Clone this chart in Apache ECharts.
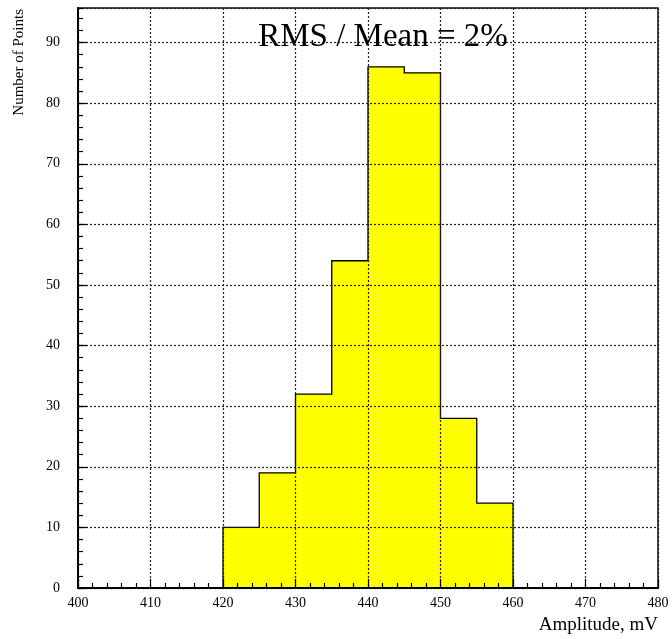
<!DOCTYPE html>
<html>
<head>
<meta charset="utf-8">
<script src="https://cdn.jsdelivr.net/npm/echarts@6/dist/echarts.min.js"></script>
<style>
html,body{margin:0;padding:0;background:#fff;}
#chart{width:672px;height:639px;}
</style>
</head>
<body>
<div id="chart"></div>
<script>
// Data
const binEdges = [420, 425, 430, 435, 440, 445, 450, 455, 460];
const binCounts = [10, 19, 32, 54, 86, 85, 28, 14];
const xTicks = [400, 410, 420, 430, 440, 450, 460, 470, 480];
const yTicks = [0, 10, 20, 30, 40, 50, 60, 70, 80, 90];
const titleText = 'RMS / Mean = 2%';
const xTitle = 'Amplitude, mV';
const yTitle = 'Number of Points';

// Step outline of the histogram built from the bins
const outline = [[binEdges[0], 0]];
for (let i = 0; i < binCounts.length; i++) {
  outline.push([binEdges[i], binCounts[i]]);
  outline.push([binEdges[i + 1], binCounts[i]]);
}
outline.push([binEdges[binEdges.length - 1], 0]);

const FONT = "'Liberation Serif', 'Times New Roman', serif";
const chart = echarts.init(document.getElementById('chart'));
const gridDot = { color: '#222', width: 1.2, type: [2, 2] };
const yMax = 95.7;

chart.setOption({
  animation: false,
  grid: { left: 78, right: 14, top: 8, bottom: 51, show: true, borderColor: '#111', borderWidth: 1.5, backgroundColor: 'transparent', z: 10 },
  xAxis: [{
    type: 'value', min: xTicks[0], max: xTicks[xTicks.length - 1], interval: 10, z: 10,
    axisLine: { show: true, onZero: false, lineStyle: { color: '#000', width: 2 } },
    axisTick: { show: true, inside: true, length: 9, lineStyle: { color: '#000', width: 1.2 } },
    minorTick: { show: true, splitNumber: 5, length: 5, lineStyle: { color: '#000', width: 1.2 } },
    splitLine: { show: true, lineStyle: gridDot },
    axisLabel: { color: '#000', fontFamily: FONT, fontSize: 14, margin: 8 }
  }],
  yAxis: [{
    type: 'value', min: yTicks[0], max: yMax, interval: 10, z: 10,
    axisLine: { show: true, onZero: false, lineStyle: { color: '#000', width: 2 } },
    axisTick: { show: true, inside: true, length: 9, lineStyle: { color: '#000', width: 1.2 } },
    splitLine: { show: true, lineStyle: gridDot },
    axisLabel: { color: '#000', fontFamily: FONT, fontSize: 14, margin: 18, showMaxLabel: false }
  }, {
    type: 'value', min: yTicks[0], max: yMax, interval: 2, position: 'left', z: 10,
    axisLine: { show: false },
    axisTick: { show: true, inside: true, length: 5, lineStyle: { color: '#000', width: 1.2 } },
    splitLine: { show: false },
    axisLabel: { show: false }
  }],
  series: [{
    type: 'custom',
    coordinateSystem: 'cartesian2d',
    xAxisIndex: 0, yAxisIndex: 0,
    data: [0],
    z: 0,
    silent: true,
    renderItem: function (params, api) {
      const pts = outline.map(p => api.coord(p));
      return { type: 'polygon', shape: { points: pts }, style: { fill: '#ffff00', stroke: '#000', lineWidth: 1.3 } };
    }
  }],
  graphic: [
    { type: 'text', x: 383, y: 37, z: 20, style: { text: titleText, font: '33px ' + FONT, fill: '#000', textAlign: 'center', textVerticalAlign: 'middle' } },
    { type: 'text', x: 658, y: 625, z: 20, style: { text: xTitle, font: '19px ' + FONT, fill: '#000', textAlign: 'right', textVerticalAlign: 'middle' } },
    { type: 'text', x: 19, y: 9, rotation: Math.PI / 2, z: 20, style: { text: yTitle, font: '15px ' + FONT, fill: '#000', textAlign: 'right', textVerticalAlign: 'middle' } }
  ]
});
</script>
</body>
</html>
